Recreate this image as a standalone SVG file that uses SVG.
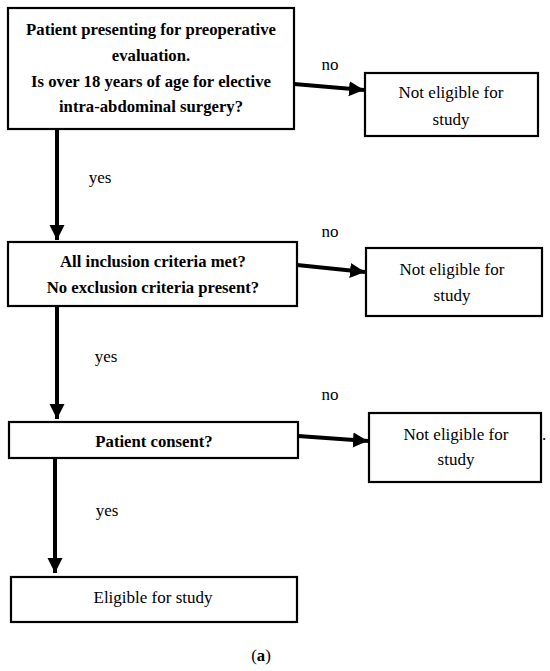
<svg xmlns="http://www.w3.org/2000/svg" width="550" height="671" viewBox="0 0 550 671">
<style>
.box{fill:#fff;stroke:#000;stroke-width:2.2}
.t{font-family:"Liberation Serif",serif;font-size:17px;fill:#000;text-anchor:middle}
.b{font-weight:bold;font-size:16.7px}
.c{stroke:#000;stroke-width:4;fill:none}
</style>
<defs>
<marker id="ah" markerUnits="userSpaceOnUse" markerWidth="18" markerHeight="18" refX="15" refY="9" orient="auto">
<path d="M0,1.5 L15,9 L0,16.5 Z" fill="#000"/>
</marker>
</defs>
<rect width="550" height="671" fill="#fff"/>
<g id="connectors">
<line class="c" x1="294" y1="84" x2="364" y2="90" marker-end="url(#ah)"/>
<line class="c" x1="57" y1="130" x2="57" y2="240" marker-end="url(#ah)"/>
<line class="c" x1="297" y1="265" x2="365" y2="272" marker-end="url(#ah)"/>
<line class="c" x1="57" y1="306" x2="57" y2="419" marker-end="url(#ah)"/>
<line class="c" x1="298" y1="436" x2="368" y2="441" marker-end="url(#ah)"/>
<line class="c" x1="55" y1="458" x2="55" y2="573" marker-end="url(#ah)"/>
<text class="t" x="330" y="70">no</text>
<text class="t" x="100" y="183">yes</text>
<text class="t" x="330" y="237">no</text>
<text class="t" x="106" y="362">yes</text>
<text class="t" x="330" y="400">no</text>
<text class="t" x="107" y="516">yes</text>
</g>
<g id="q1">
<rect class="box" x="8" y="8" width="286" height="121"/>
<text class="t b" x="151" y="35">Patient presenting for preoperative</text>
<text class="t b" x="151" y="61">evaluation.</text>
<text class="t b" x="151" y="87">Is over 18 years of age for elective</text>
<text class="t b" x="151" y="112">intra-abdominal surgery?</text>
</g>
<g id="ne1">
<rect class="box" x="365" y="73" width="173" height="63"/>
<text class="t" x="451" y="98">Not eligible for</text>
<text class="t" x="451" y="125">study</text>
</g>
<g id="q2">
<rect class="box" x="8" y="242" width="289" height="64"/>
<text class="t b" x="153" y="267">All inclusion criteria met?</text>
<text class="t b" x="153" y="293">No exclusion criteria present?</text>
</g>
<g id="ne2">
<rect class="box" x="366" y="248" width="176" height="68"/>
<text class="t" x="452" y="275">Not eligible for</text>
<text class="t" x="452" y="301">study</text>
</g>
<g id="q3">
<rect class="box" x="9" y="422" width="289" height="36"/>
<text class="t b" x="154" y="447">Patient consent?</text>
</g>
<g id="ne3">
<rect class="box" x="369" y="413" width="172" height="69"/>
<text class="t" x="456" y="440">Not eligible for</text>
<text class="t" x="456" y="465">study</text>
<text class="t" x="544" y="440">.</text>
</g>
<g id="elig">
<rect class="box" x="11" y="577" width="286" height="45"/>
<text class="t" x="153" y="603">Eligible for study</text>
</g>
<text class="t" x="261" y="661">(<tspan class="b">a</tspan>)</text>
</svg>
